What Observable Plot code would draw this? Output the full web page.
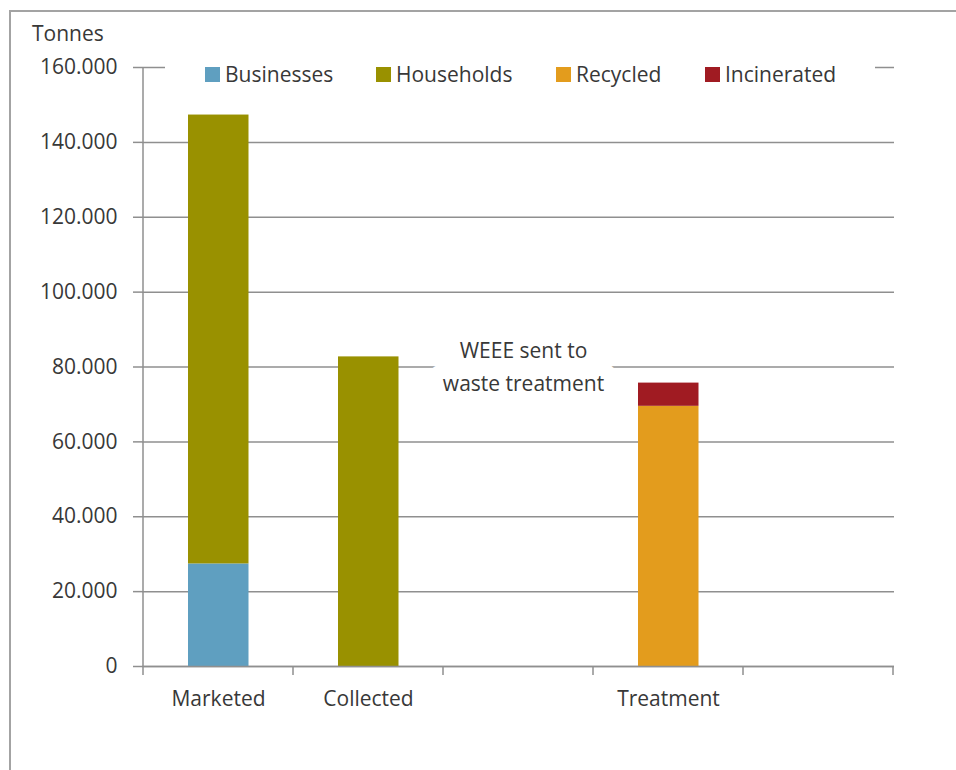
<!DOCTYPE html>
<html>
<head>
<meta charset="utf-8">
<script src="https://cdn.jsdelivr.net/npm/d3@7"></script>
<script src="https://cdn.jsdelivr.net/npm/@observablehq/plot@0.6"></script>
<style>
  body { margin: 0; background: #fff; font-family: "Open Sans", sans-serif; }
  #wrap { position: relative; width: 956px; height: 770px; overflow: hidden; background: #fff; }
  #chart { position: absolute; left: 0; top: 0; }
  #border { position: absolute; left: 9px; top: 10px; width: 1200px; height: 1200px;
            border-left: 2px solid #a3a3a3; border-top: 2px solid #a3a3a3; pointer-events: none; }
  #unit { position: absolute; left: 32px; top: 19px; font-size: 21px; color: #383838; }
  #legend { position: absolute; left: 165px; top: 58px; width: 710px; height: 32px; background: #fff; }
  .item { position: absolute; top: 0; height: 32px; display: flex; align-items: center;
          font-size: 21px; color: #383838; white-space: nowrap; }
  .sw { width: 15px; height: 15px; margin-right: 5px; }
</style>
</head>
<body>
<div id="wrap">
  <div id="chart"></div>
  <div id="unit"></div>
  <div id="legend"></div>
  <div id="border"></div>
</div>
<script>
// ---- data ----
const categories = ["Marketed", "Collected", "gap1", "Treatment", "gap2"];
const categoryLabels = ["Marketed", "Collected", "", "Treatment", ""];
const seriesNames = ["Businesses", "Households", "Recycled", "Incinerated"];
const seriesColors = ["#5f9fc0", "#999100", "#e39c1d", "#a01b22"];
const businesses  = [27400, 0, 0, 0, 0];
const households  = [119900, 82700, 0, 0, 0];
const recycled    = [0, 0, 0, 69500, 0];
const incinerated = [0, 0, 0, 6200, 0];
const yTicks = [0, 20000, 40000, 60000, 80000, 100000, 120000, 140000, 160000];
const unitLabel = "Tonnes";
const annotationCategory = "gap1";
const annotationValue = 80000;
const annotationText = "WEEE sent to\nwaste treatment";

// ---- build table ----
const seriesValues = [businesses, households, recycled, incinerated];
const rows = [];
seriesNames.forEach((s, si) => {
  categories.forEach((c, ci) => {
    if (seriesValues[si][ci] > 0) rows.push({category: c, series: s, value: seriesValues[si][ci]});
  });
});
const annotations = [{category: annotationCategory, value: annotationValue, text: annotationText}];
const labelOf = new Map(categories.map((c, i) => [c, categoryLabels[i]]));
const fmt = d => d3.format(",")(d).replace(/,/g, ".");

const chart = Plot.plot({
  width: 956,
  height: 770,
  marginLeft: 142,
  marginRight: 62,
  marginTop: 67,
  marginBottom: 104,
  style: {fontFamily: "'Open Sans', sans-serif", fontSize: "21px", color: "#383838", background: "transparent"},
  x: {domain: categories, padding: 0},
  y: {domain: [0, 160000]},
  color: {domain: seriesNames, range: seriesColors},
  marks: [
    Plot.gridY(yTicks, {stroke: "#8f8f8f", strokeOpacity: 1, strokeWidth: 1.5}),
    Plot.axisY(yTicks, {tickFormat: fmt, tickSize: 9, tickPadding: 16, label: null,
                        stroke: "#8f8f8f", strokeWidth: 1.5, fontSize: 21}),
    Plot.axisX({tickSize: 0, tickPadding: 25, tickFormat: d => labelOf.get(d), label: null, fontSize: 21}),
    Plot.barY(rows, {x: "category", y: "value", fill: "series", insetLeft: 45, insetRight: 44.5}),
    Plot.ruleY([0], {stroke: "#8f8f8f", strokeWidth: 1.5}),
    Plot.text(annotations, {x: "category", y: "value", text: "text", fontSize: 21, fill: "#383838",
                            stroke: "white", strokeWidth: 30, strokeLinejoin: "round", paintOrder: "stroke",
                            lineHeight: 1.55, dx: 5, dy: -3})
  ]
});

// axis line and category boundary tick marks from the scales
const xs = chart.scale("x"), ys = chart.scale("y");
const svg = d3.select(chart);
const g = svg.append("g").attr("stroke", "#8f8f8f").attr("stroke-width", 1.5);
const xLeft = xs.apply(categories[0]);
g.append("line").attr("x1", xLeft).attr("x2", xLeft)
  .attr("y1", ys.apply(0)).attr("y2", ys.apply(160000));
const bounds = categories.map(c => xs.apply(c)).concat([xs.apply(categories[categories.length - 1]) + xs.bandwidth]);
bounds.forEach(b => {
  g.append("line").attr("x1", b).attr("x2", b).attr("y1", ys.apply(0)).attr("y2", ys.apply(0) + 9);
});

document.getElementById("chart").appendChild(chart);
document.getElementById("unit").textContent = unitLabel;

// legend
const legendX = [40, 211, 391, 540];
const legend = document.getElementById("legend");
seriesNames.forEach((s, i) => {
  const it = document.createElement("div");
  it.className = "item";
  it.style.left = legendX[i] + "px";
  const sw = document.createElement("span");
  sw.className = "sw";
  sw.style.background = seriesColors[i];
  const t = document.createElement("span");
  t.textContent = s;
  it.appendChild(sw); it.appendChild(t);
  legend.appendChild(it);
});
</script>
</body>
</html>
